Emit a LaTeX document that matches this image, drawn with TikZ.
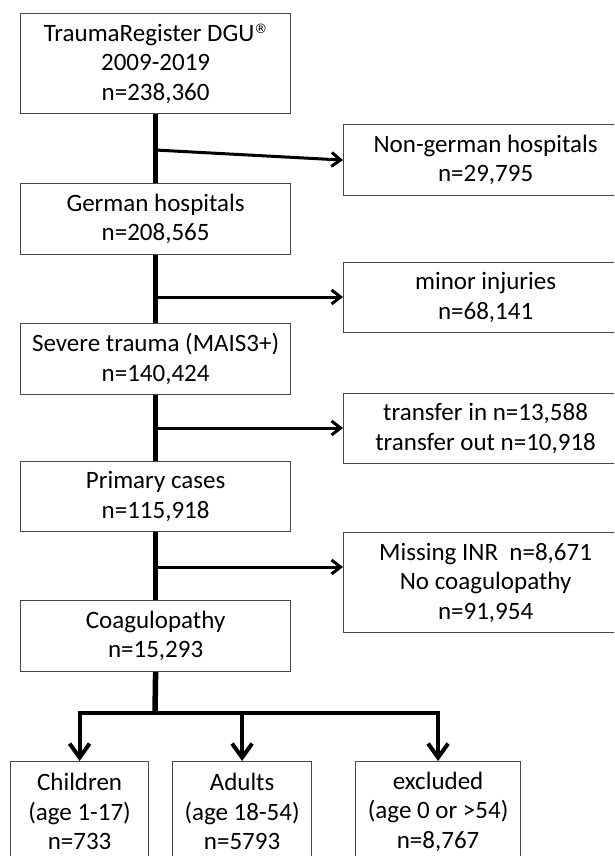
\documentclass[tikz,border=0pt]{standalone}
\usepackage{fontspec}
\setmainfont{Carlito}
\newfontfamily\symfont{DejaVu Sans}
\usetikzlibrary{arrows.meta}
\newcommand{\regmark}{{\symfont\fontsize{13}{13}\selectfont\raisebox{7.5pt}{®}}}
\begin{document}
\begin{tikzpicture}[x=1pt,y=-1pt,
  box/.style={draw=black!72,line width=1.2pt,inner sep=0pt,align=center,anchor=north west,
    text=black,font=\fontsize{25}{29.5}\selectfont},
  mainbox/.style={box,minimum width=270pt,minimum height=71pt},
  sidebox/.style={box,minimum width=284pt,minimum height=71pt},
  trunk/.style={line width=5.5pt},
  branch/.style={line width=3pt,-{Straight Barb[length=9pt,width=14pt]}},
  drop/.style={line width=4pt,line join=miter,-{Straight Barb[length=14pt,width=20pt]}}]
\clip (0,0) rectangle (614,856);
\fill[white] (0,0) rectangle (614,856);
% main column
\node[mainbox,minimum height=100pt] (reg) at (20,13) {TraumaRegister DGU\regmark\\2009-2019\\n=238,360};
\node[mainbox] (ger) at (20,183) {German hospitals\\n=208,565};
\node[mainbox] (sev) at (20,323) {Severe trauma (MAIS3+)\\n=140,424};
\node[mainbox,minimum height=70pt] (pri) at (20,461) {Primary cases\\n=115,918};
\node[mainbox] (coa) at (20,600) {Coagulopathy\\n=15,293};
% side column
\node[sidebox] (ng) at (343,124) {Non-german hospitals\\n=29,795};
\node[sidebox,minimum height=70pt] (min) at (343,262) {minor injuries\\n=68,141};
\node[sidebox,minimum height=70pt] (tra) at (343,393) {transfer in n=13,588\\transfer out n=10,918};
\node[sidebox,minimum height=100pt] (mis) at (343,532) {Missing INR\ \ n=8,671\\No coagulopathy\\n=91,954};
% bottom row
\node[box,minimum width=138pt,minimum height=100pt] (chi) at (10,761) {Children\\(age 1-17)\\n=733};
\node[box,minimum width=139pt,minimum height=100pt] (adu) at (172,761) {Adults\\(age 18-54)\\n=5793};
\node[box,minimum width=165pt,minimum height=100pt] (exc) at (355,761) {excluded\\(age 0 or {>}54)\\n=8,767};
% trunk
\draw[trunk] (reg.south) -- (ger.north);
\draw[trunk] (ger.south) -- (sev.north);
\draw[trunk] (sev.south) -- (pri.north);
\draw[trunk] (pri.south) -- (coa.north);
% branches
\coordinate (j1) at (155,150);
\coordinate (j2) at (155,297);
\coordinate (j3) at (155,428);
\coordinate (j4) at (155,567);
\draw[branch] (j1) -- (ng.west);
\draw[branch] (j2) -- (j2 -| min.west);
\draw[branch] (j3) -- (j3 -| tra.west);
\draw[branch] (j4) -- (j4 -| mis.west);
% split
\coordinate (bar) at (155,713);
\draw[trunk] (coa.south) -- (bar);
\draw[drop] (bar -| exc.north) -- (bar -| chi.north) -- (chi.north);
\draw[drop] (bar -| adu.north) -- (bar -| exc.north) -- (exc.north);
\draw[drop] (bar -| adu.north) -- (adu.north);
\end{tikzpicture}
\end{document}
